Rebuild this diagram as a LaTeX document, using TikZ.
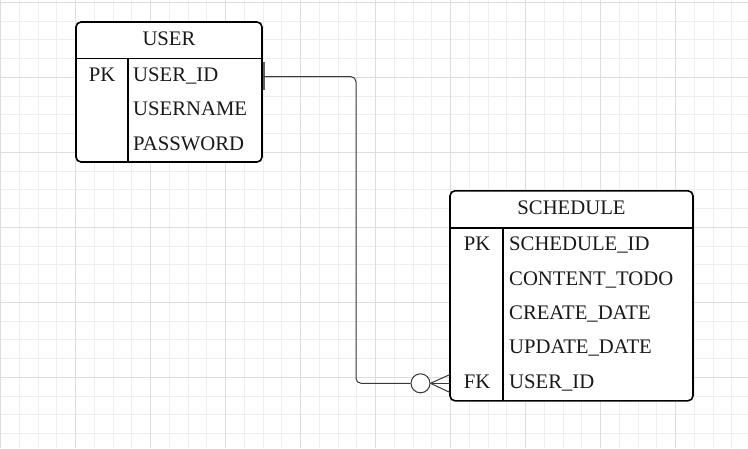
\documentclass[tikz,border=0pt]{standalone}
\usepackage{fontspec}
\setmainfont{Liberation Serif}
\definecolor{edgegray}{RGB}{54,57,61}
\begin{document}
\begin{tikzpicture}[x=1pt,y=-1pt]
\tikzset{every node/.style={font=\fontsize{20.7}{23}\selectfont,text=black!90,inner sep=0}}
\tikzset{tbl/.style={draw=black,line width=1.6pt,rounded corners=5pt,fill=white},
  tblline/.style={draw=black,line width=1.6pt},
  conn/.style={draw=edgegray,line width=1pt},
  minorgrid/.style={draw=gray!13,line width=1pt},
  majorgrid/.style={draw=gray!27,line width=1pt}}
    \useasboundingbox (0,0) rectangle (748,448);
    \fill[white] (0,0) rectangle (748,448);
    % grid
    \foreach \i in {0,...,39} \draw[minorgrid] ({0.7+18.75*\i},0) -- ++(0,448);
    \foreach \j in {0,...,23} \draw[minorgrid] (0,{2.3+18.75*\j}) -- ++(748,0);
    \foreach \i in {0,...,9} \draw[majorgrid] ({0.7+75*\i},0) -- ++(0,448);
    \foreach \j in {0,...,5} \draw[majorgrid] (0,{2.3+75*\j}) -- ++(748,0);

    % USER
    \node[tbl,minimum width=186,minimum height=140] (user) at (169,92) {};
    \draw[tblline] (76,58.5) -- (262,58.5);
    \draw[tblline] (128,58.5) -- (128,162);
    \node[anchor=base] (usert) at (169,45) {USER};
    \node[anchor=base] (upk) at (102,81.5) {PK};
    \node[anchor=base west] (uid) at (133,81.5) {USER\_ID};
    \node[anchor=base west] (uname) at (133,115.5) {USERNAME};
    \node[anchor=base west] (upw) at (133,150) {PASSWORD};

    % SCHEDULE
    \node[tbl,minimum width=243,minimum height=210] (sched) at (571.5,295.8) {};
    \draw[tblline] (450,227.7) -- (693,227.7);
    \draw[tblline] (502.7,227.7) -- (502.7,401);
    \node[anchor=base] (schedt) at (571.5,214) {SCHEDULE};
    \node[anchor=base] (spk) at (477,250) {PK};
    \node[anchor=base west] (sid) at (509,250) {SCHEDULE\_ID};
    \node[anchor=base west] (stodo) at (509,285) {CONTENT\_TODO};
    \node[anchor=base west] (scre) at (509,319.5) {CREATE\_DATE};
    \node[anchor=base west] (supd) at (509,353.5) {UPDATE\_DATE};
    \node[anchor=base] (sfk) at (477,388) {FK};
    \node[anchor=base west] (suid) at (509,388) {USER\_ID};

    % relation
    \coordinate (ustart) at (262.7,76.7);
    \coordinate (bend) at (356,230);
    \coordinate (foot1) at (450,374.5);
    \coordinate (foot2) at (450,383.3);
    \coordinate (foot3) at (450,392.5);
    \draw[draw=edgegray!80,line width=2pt] (263.7,62) -- (263.7,90);
    \node[circle,draw=edgegray,line width=1pt,fill=white,minimum size=19] (many) at (420.5,383.3) {};
    \draw[conn,rounded corners=5pt] (ustart) -| (bend) |- (many.west);
    \path[conn] (many.east) edge (foot1) (many.east) edge (foot2) (many.east) edge (foot3);
\end{tikzpicture}
\end{document}
